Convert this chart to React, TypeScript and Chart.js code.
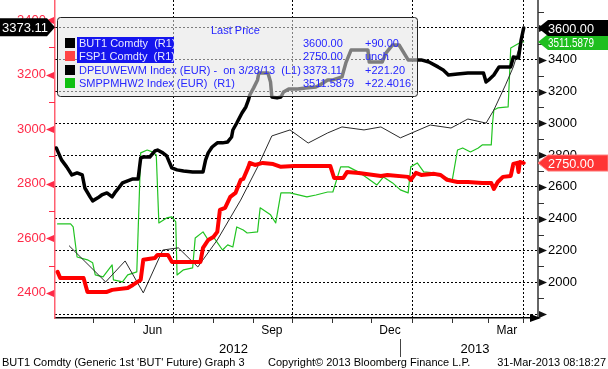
import React, { useEffect, useRef } from 'react';
import { Chart, registerables } from 'chart.js';
Chart.register(...registerables);

// ---- time base: x values are days since 1 Apr 2012 ----
const START_DATE = '2012-04-01';
const END_DATE = '2013-04-08';
const dayOf = (iso: string) =>
  Math.round((Date.parse(iso + 'T00:00:00Z') - Date.parse(START_DATE + 'T00:00:00Z')) / 86400000);

// ---- BUT1 Comdty (R1) ----
const BUT1_DAYS = [1,5,9,13,17,21,23,27,29,33,36,40,44,46,49,52,56,60,64,66,68,73,77,79,83,86,90,94,99,106,114,116,118,121,125,129,133,136,137,140,144,147,149,150,153,156,157,164,166,167,171,174,176,180,187,193,201,204,210,214,221,224,228,241,242,252,255,260,265,272,282,288,295,299,303,310,318,326,330,332,334,338,342,351,353,357,359,361];
const BUT1_VALUES = [2845,2770,2726,2675,2688,2675,2593,2537,2512,2531,2549,2562,2537,2562,2593,2625,2638,2650,2650,2782,2788,2788,2826,2832,2814,2795,2719,2707,2700,2694,2694,2770,2814,2851,2877,2877,2883,2914,2958,3002,3065,3103,3147,3178,3223,3273,3317,3317,3260,3166,3160,3166,3197,3216,3216,3222,3229,3241,3273,3273,3292,3380,3461,3461,3386,3386,3443,3493,3493,3399,3399,3386,3355,3336,3304,3311,3317,3317,3317,3260,3273,3304,3355,3355,3417,3411,3524,3600];

// ---- FSP1 Comdty (R1) ----
const FSP1_DAYS = [2,4,22,25,40,44,56,60,66,68,77,79,87,90,112,114,118,122,125,127,131,135,139,143,145,149,150,154,160,168,174,184,212,215,222,225,234,251,256,272,274,278,282,292,297,302,310,318,329,336,338,341,345,351,353,356,357,358,361];
const FSP1_VALUES = [2065,2027,2027,1939,1939,1952,1964,1983,2015,2141,2153,2172,2172,2128,2128,2216,2266,2285,2317,2455,2468,2537,2562,2644,2650,2726,2751,2738,2751,2744,2726,2732,2732,2656,2656,2694,2688,2669,2675,2663,2644,2688,2675,2682,2675,2644,2631,2631,2625,2625,2587,2631,2663,2669,2744,2751,2694,2757,2750];

// ---- DPEUWEWM Index (EUR) (L1) ----
const DPEU_DAYS = [11,39,54,68,83,95,110,125,143,156,167,181,195,210,221,238,251,266,289,305,318,332,338,347,353,357,361];
const DPEU_VALUES = [2572,2440,2517,2400,2557,2565,2495,2594,2740,2861,2975,2997,2949,2986,3008,2997,3008,2968,3015,3004,3037,3022,3070,3162,3228,3290,3373.11];

// ---- SMPPMHW2 Index (EUR) (R1) ----
const SMPP_DAYS = [2,12,14,17,25,29,31,37,44,45,52,56,63,66,71,75,78,80,86,90,93,94,99,106,108,114,118,122,129,133,137,140,145,148,156,158,166,170,174,181,194,201,210,214,220,226,235,248,253,260,266,272,274,279,284,292,299,306,310,314,320,326,329,336,337,338,341,349,351,359,361];
const SMPP_VALUES = [2367,2367,2348,2159,2141,2122,2046,2034,2109,2015,2002,2046,2065,2814,2832,2820,2801,2373,2405,2411,2380,2046,2078,2090,2279,2317,2266,2285,2203,2235,2222,2348,2329,2310,2317,2468,2424,2373,2562,2562,2537,2549,2568,2568,2726,2726,2688,2612,2663,2625,2581,2562,2726,2751,2694,2688,2663,2644,2832,2845,2820,2845,2864,2864,3002,3084,3097,3103,3474,3512,3511.5879];

// ---- legend ----
const SERIES_NAMES = ['BUT1 Comdty  (R1)', 'FSP1 Comdty  (R1)', 'DPEUWEWM Index (EUR) -  on 3/28/13  (L1)', 'SMPPMHW2 Index (EUR)  (R1)'];
const LAST_PRICES = ['3600.00', '2750.00', '3373.11', '3511.5879'];
const CHANGES = ['+90.00', 'unch', '+221.20', '+22.4016'];
const LAST_VALUES = [3600, 2750, 3373.11, 3511.5879];

// ---- axes ----
const LEFT_MIN = 2308, LEFT_MAX = 3473;
const RIGHT_MIN = 1775, RIGHT_MAX = 3776;
const LEFT_TICKS = [2400, 2600, 2800, 3000, 3200, 3400];
const LEFT_MINOR = [2500, 2700, 2900, 3100, 3300];
const RIGHT_TICKS = [1800, 2000, 2200, 2400, 2600, 2800, 3000, 3200, 3400, 3600];
const RIGHT_MINOR = [1900, 2100, 2300, 2500, 2700, 2900, 3100, 3300, 3500, 3700];
const MONTH_STARTS = ['2012-05-01','2012-06-01','2012-07-01','2012-08-01','2012-09-01','2012-10-01','2012-11-01','2012-12-01','2013-01-01','2013-02-01','2013-03-01','2013-03-28'];
const QUARTER_LINES = ['2012-07-01','2012-10-01','2013-01-01','2013-03-28'];
const MONTH_LABELS = ['Jun', 'Sep', 'Dec', 'Mar'];
const MONTH_LABEL_DATES = ['2012-06-15','2012-09-15','2012-12-15','2013-03-15'];
const YEAR_LABELS = ['2012', '2013'];
const YEAR_BOUNDARY = '2013-01-01';
const FOOTER = ["BUT1 Comdty (Generic 1st 'BUT' Future) Graph 3", 'Copyright\u00a9 2013 Bloomberg Finance L.P.', '31-Mar-2013 08:18:27'];

const FONT = '"Liberation Sans", Arial, sans-serif';
const f = (s: number) => `${s}px ${FONT}`;
const RED_AXIS = '#ff2a48';
const LEGEND_BLUE = '#2626ff';

const pairs = (xs: number[], ys: number[]) => xs.map((x, i) => ({ x, y: ys[i] }));
const quarterDays = QUARTER_LINES.map(dayOf);

function drawTagRight(ctx: CanvasRenderingContext2D, ax: number, right: number, y: number, text: string, bg: string, fg: string, stroke?: string) {
  const h = 8;
  ctx.beginPath();
  ctx.moveTo(ax, y);
  ctx.lineTo(ax + 10, y - h);
  ctx.lineTo(right, y - h);
  ctx.lineTo(right, y + h);
  ctx.lineTo(ax + 10, y + h);
  ctx.closePath();
  ctx.fillStyle = bg;
  ctx.fill();
  if (stroke) { ctx.strokeStyle = stroke; ctx.lineWidth = 1; ctx.stroke(); }
  ctx.fillStyle = fg;
  ctx.font = f(13);
  ctx.textAlign = 'left';
  ctx.textBaseline = 'middle';
  ctx.fillText(text, ax + 10, y + 1, 46);
}

const fitY = (w: number) => (s: any) => {
  s.width = w;
  s.paddingTop = 0;
  s.paddingBottom = 0;
};

const decor = {
  id: 'decor',
  afterDraw(chart: any) {
    const { ctx, chartArea: ca, scales } = chart;
    const xs = scales.x, yL = scales.yL, yR = scales.yR;
    ctx.save();

    // left axis markers
    ctx.fillStyle = RED_AXIS;
    ctx.strokeStyle = RED_AXIS;
    ctx.lineWidth = 1;
    for (const v of LEFT_TICKS) {
      const py = Math.round(yL.getPixelForValue(v)) + 0.5;
      ctx.beginPath();
      ctx.moveTo(ca.left - 1, py - 3.5);
      ctx.lineTo(ca.left - 1, py + 3.5);
      ctx.lineTo(ca.left - 9, py);
      ctx.closePath();
      ctx.fill();
    }
    for (const v of LEFT_MINOR) {
      const py = Math.round(yL.getPixelForValue(v)) + 0.5;
      ctx.beginPath();
      ctx.moveTo(ca.left - 6, py);
      ctx.lineTo(ca.left, py);
      ctx.stroke();
    }
    // right axis markers
    ctx.fillStyle = '#111';
    ctx.strokeStyle = '#333';
    for (const v of RIGHT_TICKS) {
      const py = Math.round(yR.getPixelForValue(v)) + 0.5;
      ctx.beginPath();
      ctx.moveTo(ca.right + 1, py - 3.5);
      ctx.lineTo(ca.right + 1, py + 3.5);
      ctx.lineTo(ca.right + 9, py);
      ctx.closePath();
      ctx.fill();
    }
    for (const v of RIGHT_MINOR) {
      const py = Math.round(yR.getPixelForValue(v)) + 0.5;
      ctx.beginPath();
      ctx.moveTo(ca.right, py);
      ctx.lineTo(ca.right + 6, py);
      ctx.stroke();
    }
    // x axis arrow
    ctx.fillStyle = '#000';
    ctx.beginPath();
    ctx.moveTo(ca.right - 8, ca.bottom - 4);
    ctx.lineTo(ca.right + 3, ca.bottom);
    ctx.lineTo(ca.right - 8, ca.bottom + 4);
    ctx.closePath();
    ctx.fill();

    // month labels
    ctx.fillStyle = '#000';
    ctx.font = f(12);
    ctx.textAlign = 'center';
    ctx.textBaseline = 'middle';
    MONTH_LABELS.forEach((m, i) => {
      ctx.fillText(m, xs.getPixelForValue(dayOf(MONTH_LABEL_DATES[i])), ca.bottom + 13);
    });
    // year labels
    const bx = xs.getPixelForValue(dayOf(YEAR_BOUNDARY));
    ctx.font = f(13);
    ctx.fillText(YEAR_LABELS[0], (ca.left + bx) / 2, ca.bottom + 31);
    ctx.fillText(YEAR_LABELS[1], (bx + ca.right) / 2, ca.bottom + 31);
    ctx.strokeStyle = '#444';
    ctx.beginPath();
    ctx.moveTo(Math.round(bx) - 11.5, ca.bottom + 21);
    ctx.lineTo(Math.round(bx) - 11.5, ca.bottom + 39);
    ctx.stroke();
    // footer
    ctx.font = f(11);
    ctx.textAlign = 'left';
    ctx.fillText(FOOTER[0], 2, chart.height - 6);
    ctx.fillText(FOOTER[1], 268, chart.height - 6);
    ctx.textAlign = 'right';
    ctx.fillText(FOOTER[2], chart.width - 2, chart.height - 6);

    // legend box (semi-transparent)
    const lx = ca.left + 2, ly = 17, lw = 360, lh = 79;
    ctx.beginPath();
    ctx.roundRect(lx + 0.5, ly + 0.5, lw, lh, 3);
    ctx.fillStyle = 'rgba(228,228,228,0.55)';
    ctx.fill();
    ctx.strokeStyle = '#222';
    ctx.lineWidth = 1;
    ctx.stroke();
    ctx.font = f(11);
    ctx.textAlign = 'left';
    ctx.textBaseline = 'middle';
    ctx.fillStyle = LEGEND_BLUE;
    ctx.fillText('Last Price', lx + 154, ly + 14);
    // highlight of first two rows
    ctx.fillStyle = '#1515ee';
    ctx.fillRect(lx + 20, ly + 20, 97, 26);
    const swatch = ['#000000', '#ff4444', '#000000', '#10c010'];
    SERIES_NAMES.forEach((name, i) => {
      const ry = ly + 26 + i * 13.3;
      ctx.fillStyle = swatch[i];
      ctx.fillRect(lx + 8, Math.round(ry - 5), 10, 10);
      ctx.fillStyle = i < 2 ? '#e8e8ff' : LEGEND_BLUE;
      ctx.fillText(name, lx + 22, ry + 1);
      ctx.fillStyle = LEGEND_BLUE;
      ctx.fillText(LAST_PRICES[i], lx + 246, ry + 1);
      ctx.fillText(CHANGES[i], lx + 308, ry + 1);
    });

    // value tags
    drawTagRight(ctx, ca.right, chart.width, yR.getPixelForValue(LAST_VALUES[1]), LAST_PRICES[1], '#ff3434', '#ffffff', '#ff7a7a');
    drawTagRight(ctx, ca.right, chart.width, yR.getPixelForValue(LAST_VALUES[3]), LAST_PRICES[3], '#1fbf1f', '#ffffff');
    drawTagRight(ctx, ca.right, chart.width, yR.getPixelForValue(LAST_VALUES[0]), LAST_PRICES[0], '#000000', '#ffffff');
    // left tag (L1)
    const ty = yL.getPixelForValue(LAST_VALUES[2]);
    ctx.beginPath();
    ctx.moveTo(0, ty - 9);
    ctx.lineTo(ca.left - 8, ty - 9);
    ctx.lineTo(ca.left, ty);
    ctx.lineTo(ca.left - 8, ty + 9);
    ctx.lineTo(0, ty + 9);
    ctx.closePath();
    ctx.fillStyle = '#000';
    ctx.fill();
    ctx.fillStyle = '#fff';
    ctx.font = f(13);
    ctx.textAlign = 'left';
    ctx.fillText(LAST_PRICES[2], 2, ty + 1);

    ctx.restore();
  },
};

export default function App() {
  const ref = useRef<HTMLCanvasElement>(null);
  useEffect(() => {
    Chart.defaults.font.family = FONT;
    const chart = new Chart(ref.current as HTMLCanvasElement, {
      type: 'line',
      data: {
        datasets: [
          { label: 'BUT1', data: pairs(BUT1_DAYS, BUT1_VALUES), yAxisID: 'yR', borderColor: '#000000', borderWidth: 3.5 },
          { label: 'FSP1', data: pairs(FSP1_DAYS, FSP1_VALUES), yAxisID: 'yR', borderColor: '#ff0000', borderWidth: 4 },
          { label: 'DPEUWEWM', data: pairs(DPEU_DAYS, DPEU_VALUES), yAxisID: 'yL', borderColor: '#2a2a2a', borderWidth: 1 },
          { label: 'SMPPMHW2', data: pairs(SMPP_DAYS, SMPP_VALUES), yAxisID: 'yR', borderColor: '#22c422', borderWidth: 1.2 },
        ],
      },
      options: {
        responsive: false,
        animation: false,
        devicePixelRatio: 1,
        layout: { padding: 0 },
        plugins: { legend: { display: false }, tooltip: { enabled: false } },
        elements: {
          point: { radius: 0 },
          line: { tension: 0, borderJoinStyle: 'round', borderCapStyle: 'round', fill: false },
        },
        scales: {
          x: {
            type: 'linear',
            position: 'bottom',
            min: 0,
            max: dayOf(END_DATE),
            afterFit: (s: any) => { s.height = 51; s.paddingLeft = 0; s.paddingRight = 0; },
            afterBuildTicks: (s: any) => { s.ticks = MONTH_STARTS.map((d) => ({ value: dayOf(d) })); },
            ticks: { display: false },
            grid: {
              color: (c: any) => (c.tick && quarterDays.includes(c.tick.value) ? '#000' : 'rgba(0,0,0,0)'),
              tickColor: '#333',
              tickLength: 5,
              lineWidth: 1,
            },
            border: { color: '#000', width: 1.5, dash: [2, 2] },
          },
          yL: {
            type: 'linear',
            position: 'left',
            min: LEFT_MIN,
            max: LEFT_MAX,
            afterFit: fitY(55),
            afterBuildTicks: (s: any) => { s.ticks = LEFT_TICKS.map((v) => ({ value: v })); },
            ticks: { color: RED_AXIS, font: { size: 13, family: FONT }, padding: 9, autoSkip: false, callback: (v: any) => String(v) },
            grid: { drawOnChartArea: false, drawTicks: false },
            border: { color: '#ff6070', width: 1.5 },
          },
          yR: {
            type: 'linear',
            position: 'right',
            min: RIGHT_MIN,
            max: RIGHT_MAX,
            afterFit: fitY(70),
            afterBuildTicks: (s: any) => { s.ticks = RIGHT_TICKS.map((v) => ({ value: v })); },
            ticks: { color: '#000', font: { size: 13, family: FONT }, padding: 10, autoSkip: false, callback: (v: any) => (v === RIGHT_TICKS[0] ? '' : String(v)) },
            grid: { color: '#000', drawTicks: false, lineWidth: 1 },
            border: { color: '#666', width: 2, dash: [2, 2] },
          },
        },
      },
      plugins: [decor],
    } as any);
    return () => chart.destroy();
  }, []);
  return (
    <div style={{ position: 'fixed', left: 0, top: 0, width: 608, height: 369, background: '#fff' }}>
      <canvas ref={ref} width={608} height={369} style={{ display: 'block', width: 608, height: 369 }} />
    </div>
  );
}
